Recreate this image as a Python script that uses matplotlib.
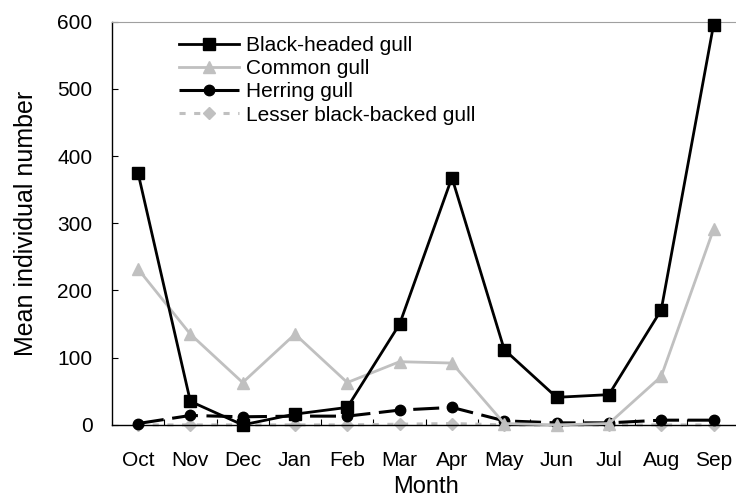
import matplotlib
matplotlib.use("Agg")
import matplotlib.pyplot as plt
import numpy as np

plt.rcParams['font.family'] = ['Liberation Sans', 'DejaVu Sans']

months = ["Oct", "Nov", "Dec", "Jan", "Feb", "Mar", "Apr", "May", "Jun", "Jul", "Aug", "Sep"]
black_headed = [375, 35, 0, 16, 26, 150, 368, 112, 41, 45, 171, 595]
common = [232, 135, 63, 135, 63, 94, 92, 2, 0, 2, 72, 291]
herring = [2, 14, 12, 13, 13, 22, 26, 6, 3, 3, 7, 7]
lesser_bb = [0, 0, 0, 0, 0, 1, 2, 0, 0, 0, 0, 0]

gray = "#c0c0c0"
x = np.arange(len(months))

fig = plt.figure(figsize=(7.36, 5.04), dpi=100)
ax = fig.add_axes([0.152, 0.157, 0.853, 0.800])

ax.plot(x, black_headed, color="black", lw=2, marker="s", ms=8,
        label="Black-headed gull", clip_on=False, zorder=5)
ax.plot(x, common, color=gray, lw=2, marker="^", ms=8,
        label="Common gull", clip_on=False, zorder=4)
ax.plot(x, herring, color="black", lw=2.2, marker="o", ms=7.5,
        dashes=(8.5, 2.8), label="Herring gull", clip_on=False, zorder=3)
ax.plot(x, lesser_bb, color=gray, lw=2.2, marker="D", ms=6.5,
        dashes=(2, 2.8), label="Lesser black-backed gull", clip_on=False, zorder=2)

ax.set_xlim(-0.5, 11.5)
ax.set_ylim(0, 600)
ax.set_yticks(range(0, 601, 100))
ax.set_xticks(x)
ax.set_xticklabels(months)
ax.set_xticks(np.arange(0.5, 11.5, 1), minor=True)

ax.tick_params(axis="x", which="major", length=0, labelsize=15, pad=19)
ax.tick_params(axis="x", which="minor", direction="in", length=4, width=0.8)
ax.tick_params(axis="y", direction="in", length=4, width=0.8, labelsize=15, pad=14)

ax.spines["top"].set_color("#a0a0a0")
ax.spines["right"].set_visible(False)
for s in ("left", "bottom"):
    ax.spines[s].set_linewidth(1.0)

ax.set_xlabel("Month", fontsize=17, labelpad=4)
ax.set_ylabel("Mean individual number", fontsize=18, labelpad=14)

ax.legend(loc="upper left", bbox_to_anchor=(0.09, 0.99), frameon=False,
          fontsize=15, handlelength=2.9, handletextpad=0.33,
          labelspacing=0.2, borderpad=0)

fig.savefig("out.png", dpi=100)
